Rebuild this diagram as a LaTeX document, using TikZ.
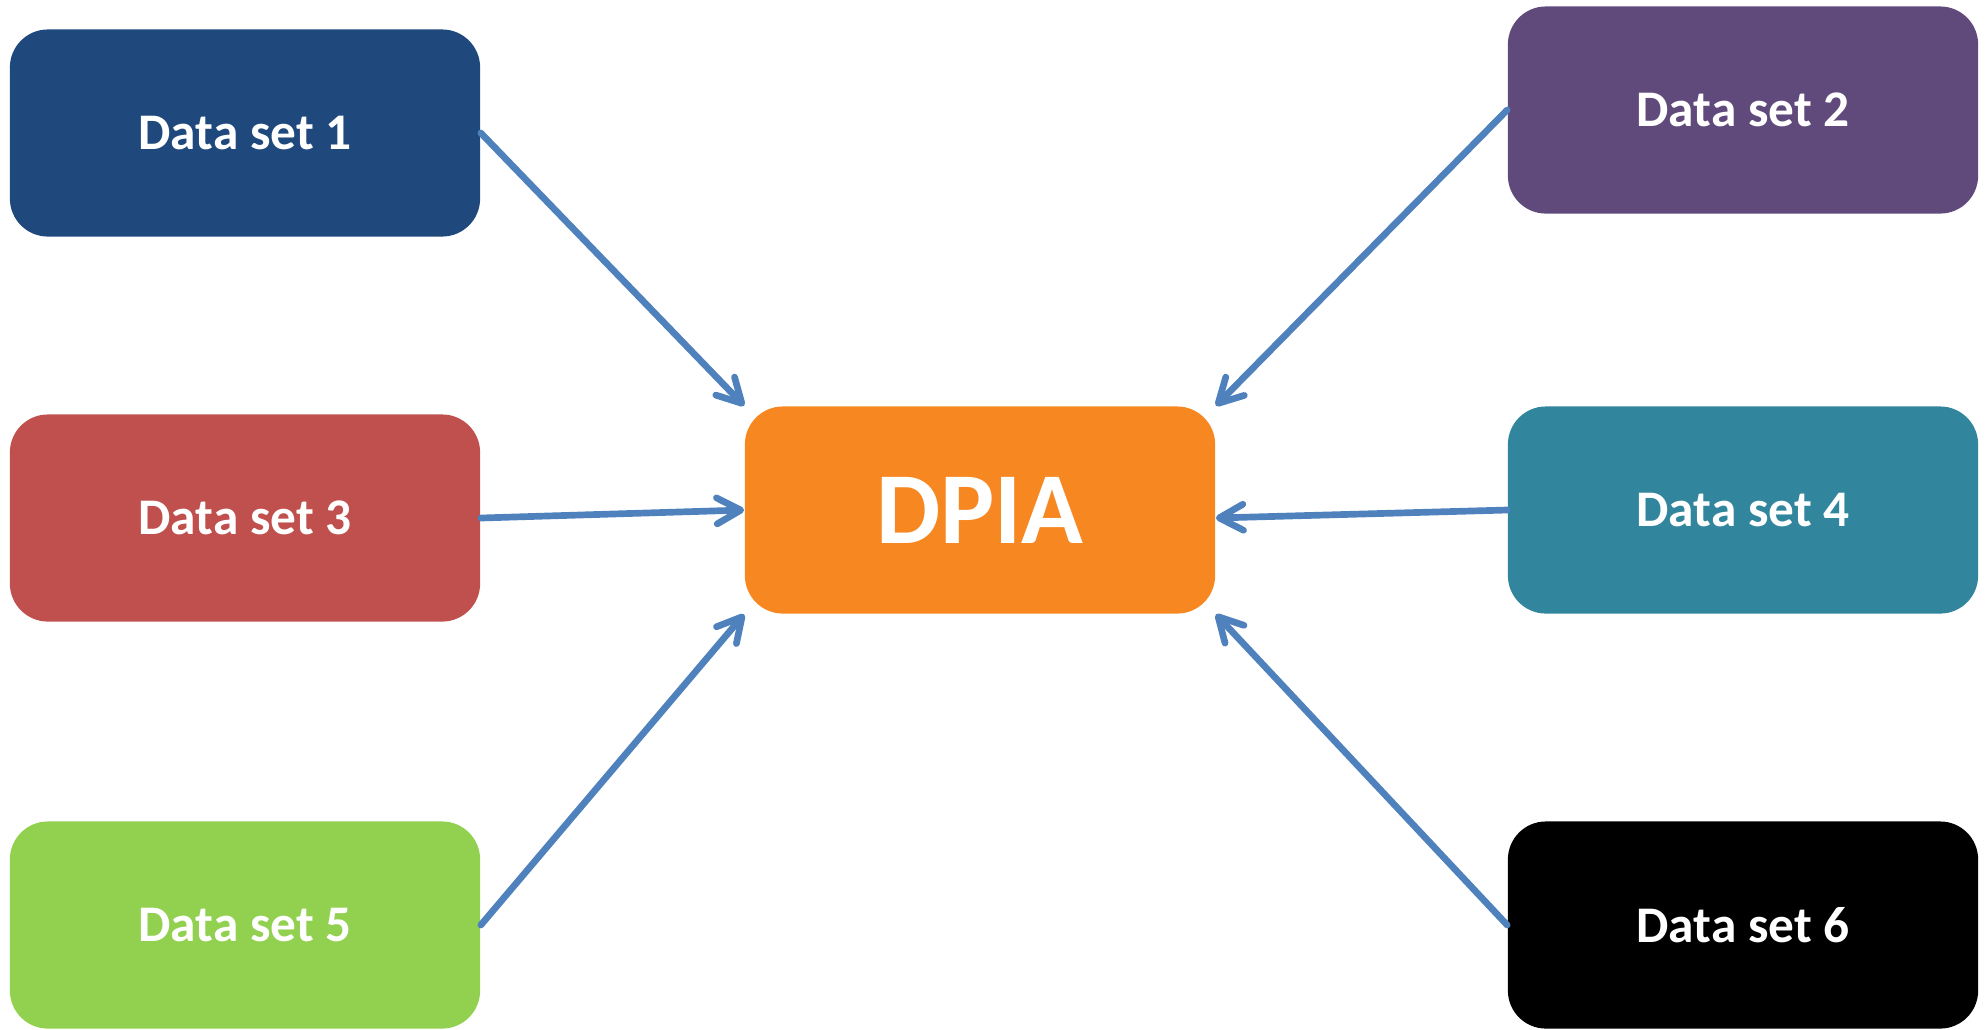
\documentclass[tikz,border=0pt]{standalone}
\usepackage{fontspec}
\setmainfont{Carlito}
\usetikzlibrary{
  arrows.meta,
  positioning
}
\usepackage{xcolor}
\definecolor{setblue}{HTML}{1F497D}
\definecolor{setpurple}{HTML}{604A7B}
\definecolor{setred}{HTML}{C0504D}
\definecolor{setteal}{HTML}{31859C}
\definecolor{setgreen}{HTML}{92D050}
\definecolor{dpiaorange}{HTML}{F68721}
\definecolor{arrowblue}{HTML}{4F81BD}

\begin{document}
\begin{tikzpicture}[
  x=0.01cm, y=-0.01cm,
  my_box/.style={
    rectangle,
    rounded corners=0.38cm,
    minimum width=4.7cm,
    minimum height=2.07cm,
    inner sep=0pt,
    text=white,
    align=center,
    font=\bfseries\fontsize{14.6}{17}\selectfont,
  },
  my_arrow/.style={
    draw=arrowblue,
    line width=1.9pt,
    line cap=round,
    -{Straight Barb[length=2.4mm, width=2.6mm, line cap=round, line join=round]},
  }
  ]

  \path[use as bounding box] (0,0) rectangle (1988,1029);

  \node[my_box, fill=dpiaorange, font=\bfseries\fontsize{29}{34}\selectfont] (dpia) at (980,510) {DPIA};

  \node[my_box, fill=setblue] (set1) at (245,133) {Data set 1};
  \node[my_box, fill=setpurple] (set2) at (1743,110) {Data set 2};
  \node[my_box, fill=setred] (set3) at (245,518) {Data set 3};
  \node[my_box, fill=setteal] (set4) at (1743,510) {Data set 4};
  \node[my_box, fill=setgreen] (set5) at (245,925) {Data set 5};
  \node[my_box, fill=black] (set6) at (1743,925) {Data set 6};

  \draw[my_arrow] (set1.east) -- (dpia.north west);
  \draw[my_arrow] (set2.west) -- (dpia.north east);
  \draw[my_arrow] (set3.east) -- (dpia.west);
  \draw[my_arrow] (set4.west) -- ([yshift=-0.08cm]dpia.east);
  \draw[my_arrow] (set5.east) -- (dpia.south west);
  \draw[my_arrow] (set6.west) -- (dpia.south east);

\end{tikzpicture}
\end{document}
